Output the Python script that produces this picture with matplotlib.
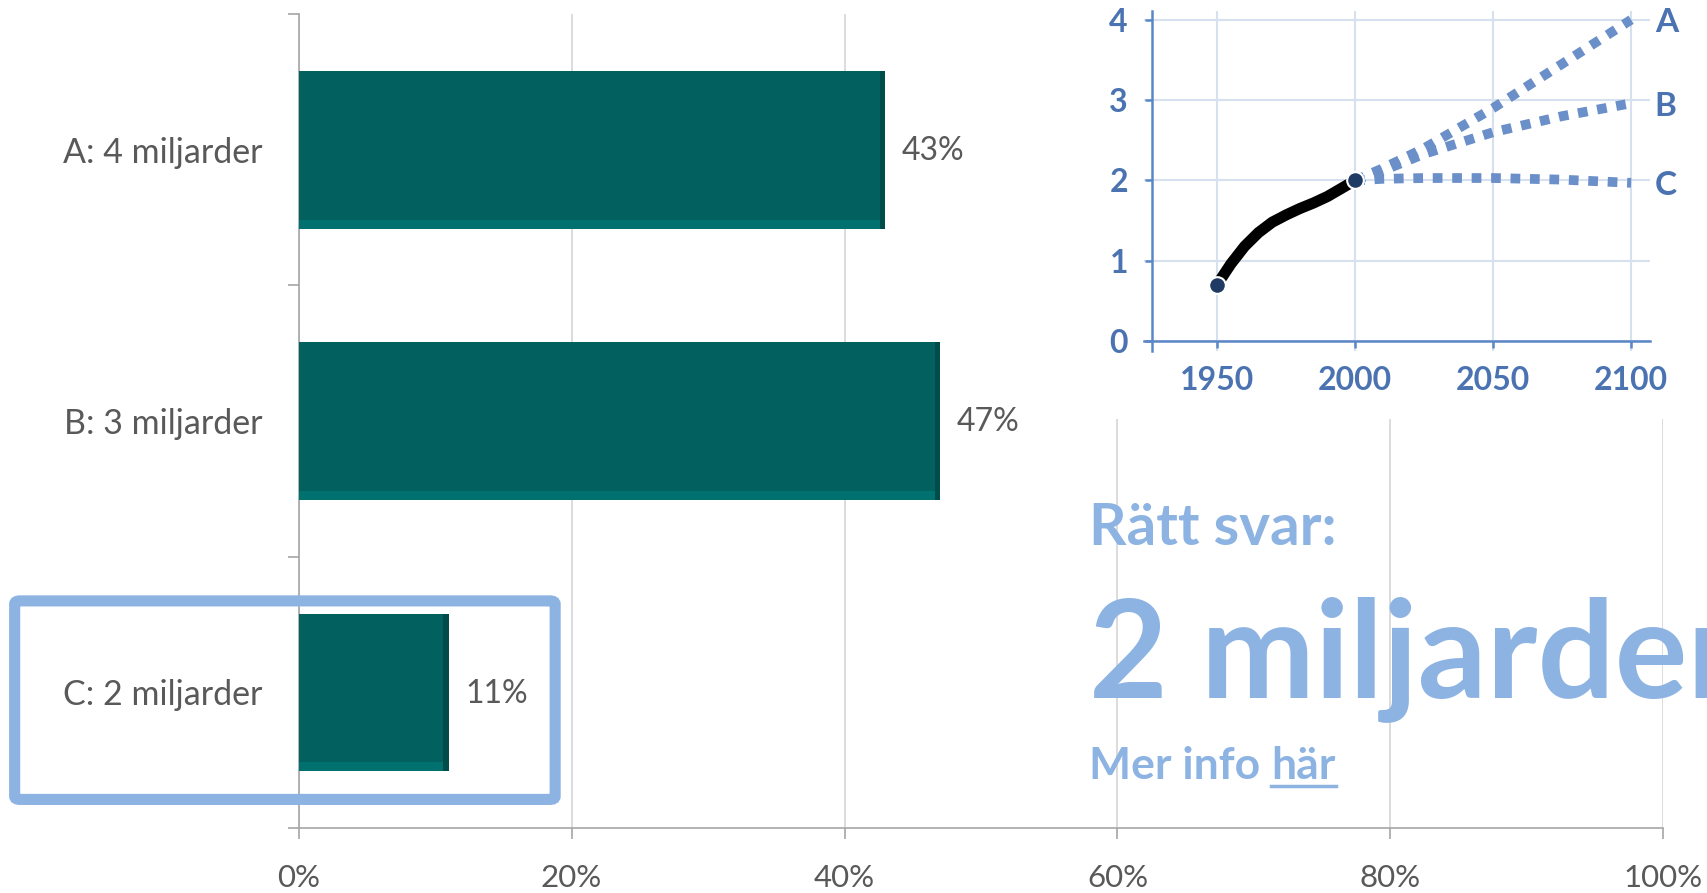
import matplotlib
matplotlib.use("Agg")
import matplotlib.pyplot as plt
from matplotlib.patches import FancyBboxPatch, Rectangle
from matplotlib.lines import Line2D

# main question: share of answers per option
categories = ["A: 4 miljarder", "B: 3 miljarder", "C: 2 miljarder"]
shares = [43, 47, 11]
correct_idx = 2
x_ticks = [0, 20, 40, 60, 80, 100]

# inset: number of children in the world (billions)
hist_years = [1950, 1955, 1960, 1965, 1970, 1975, 1980, 1985, 1990, 1995, 2000]
hist_vals = [0.70, 0.96, 1.18, 1.35, 1.48, 1.57, 1.65, 1.72, 1.80, 1.90, 2.0]
proj_years = [2000, 2010, 2025, 2050, 2075, 2100]
proj_a = [2.0, 2.15, 2.40, 2.90, 3.45, 4.0]
proj_b = [2.0, 2.12, 2.33, 2.60, 2.80, 2.96]
proj_c = [2.0, 2.02, 2.03, 2.03, 2.01, 1.97]
proj_names = ["A", "B", "C"]
inset_xticks = [1950, 2000, 2050, 2100]
inset_yticks = [0, 1, 2, 3, 4]

FONT = "Lato"
GREY = "#595959"
TEAL = "#02605E"
LIGHT_BLUE = "#8DB3E2"
INSET_BLUE = "#4B73B1"
INSET_LINE = "#6B8FC9"

plt.rcParams["font.family"] = [FONT, "DejaVu Sans"]

fig = plt.figure(figsize=(17.08, 8.93), dpi=100)
ax = fig.add_axes([0.1748, 0.0729, 0.7991, 0.9111])

n = len(categories)
ypos = [n - 1 - i for i in range(n)]
bar_h = 0.58
ax.barh(ypos, shares, height=bar_h, color=TEAL, zorder=3)
# simple bevel: lighter bottom strip, darker right strip
ax.barh([y - bar_h / 2 + 0.016 for y in ypos], shares, height=0.032,
        color="#00716F", zorder=4)
ax.barh(ypos, [0.4] * n, left=[v - 0.4 for v in shares], height=bar_h,
        color="#004C4B", zorder=4)

for y, v in zip(ypos, shares):
    ax.annotate(f"{v}%", xy=(v, y), xytext=(12, -1), textcoords="offset points",
                va="center", ha="left", fontsize=23, color=GREY)

ax.set_xlim(0, 100)
ax.set_ylim(-0.5, n - 0.5)
ax.set_xticks(x_ticks)
ax.set_xticklabels([f"{t}%" for t in x_ticks], fontsize=22.5, color=GREY)
ax.set_yticks([i - 0.5 for i in range(n + 1)])
ax.set_yticklabels([])
ax.set_yticks(ypos, minor=True)
ax.set_yticklabels(categories, minor=True, fontsize=24.5, color=GREY)
ax.tick_params(axis="y", which="minor", length=0, pad=26)
ax.tick_params(axis="y", which="major", length=8, width=1.2, color="#A6A6A6")
ax.tick_params(axis="x", length=8, width=1.2, color="#A6A6A6", pad=18)
ax.grid(axis="x", color="#D9D9D9", linewidth=1.3, zorder=0)
for s in ["top", "right"]:
    ax.spines[s].set_visible(False)
for s in ["left", "bottom"]:
    ax.spines[s].set_color("#A6A6A6")
    ax.spines[s].set_linewidth(1.2)

# highlight the correct answer
box = FancyBboxPatch((-0.208, 0.035), 0.396, 0.244, boxstyle="round,pad=0,rounding_size=0.004",
                     transform=ax.transAxes, fill=False, edgecolor=LIGHT_BLUE,
                     linewidth=8, clip_on=False, zorder=6)
ax.add_patch(box)

# white backdrop for the inset image
fig.patches.append(Rectangle((0.63, 0.531), 0.37, 0.469, transform=fig.transFigure,
                             facecolor="white", edgecolor="none", zorder=1))

ins = fig.add_axes([0.6697, 0.6072, 0.2966, 0.3806], zorder=2)
ins.set_facecolor("white")
ins.set_xlim(1923.5, 2107)
ins.set_ylim(-0.12, 4.11)
ins.spines["left"].set_position(("data", 1926.3))
ins.spines["bottom"].set_position(("data", 0))
for s in ["top", "right"]:
    ins.spines[s].set_visible(False)
for s in ["left", "bottom"]:
    ins.spines[s].set_color("#5B87C6")
    ins.spines[s].set_linewidth(1.8)
ins.set_xticks(inset_xticks)
ins.set_yticks(inset_yticks)
ins.set_xticklabels([str(t) for t in inset_xticks], fontsize=23, fontweight="bold", color=INSET_BLUE)
ins.set_yticklabels([str(t) for t in inset_yticks], fontsize=23, fontweight="bold", color=INSET_BLUE)
ins.tick_params(length=5, width=1.8, color="#5B87C6")
ins.tick_params(axis="x", pad=13)
ins.tick_params(axis="y", pad=12)
ins.grid(color="#D6E1F0", linewidth=1.5, zorder=0)

for vals, name in zip([proj_a, proj_b, proj_c], proj_names):
    ins.plot(proj_years, vals, color=INSET_LINE, linewidth=7, linestyle=(0, (1, 1)),
             dash_capstyle="butt", zorder=3)
    ins.annotate(name, xy=(proj_years[-1], vals[-1]), xytext=(17, -2), textcoords="offset points",
                 va="center", ha="left", fontsize=24, fontweight="bold", color=INSET_BLUE,
                 annotation_clip=False)
ins.plot(hist_years, hist_vals, color="black", linewidth=8, solid_capstyle="round", zorder=4)
ins.plot([hist_years[0], hist_years[-1]], [hist_vals[0], hist_vals[-1]], "o", markersize=12,
         color="#1F3A63", markeredgecolor="white", markeredgewidth=1.5, zorder=5)

# answer text (the big line runs off the right edge, as in the original slide)
fig.text(0.6377, 0.390, "Rätt svar:", fontsize=42, fontweight="bold", color=LIGHT_BLUE,
         va="baseline", ha="left")
fig.text(0.6377, 0.2195, "2 miljarder", fontsize=98, fontweight="bold", color=LIGHT_BLUE,
         va="baseline", ha="left")
t1 = fig.text(0.6377, 0.128, "Mer info ", fontsize=32, fontweight="bold", color=LIGHT_BLUE,
              va="baseline", ha="left")
fig.canvas.draw()
r = fig.canvas.get_renderer()
W, H = fig.bbox.width, fig.bbox.height
b1 = t1.get_window_extent(r)
t2 = fig.text(b1.x1 / W, 0.128, "här", fontsize=32, fontweight="bold", color=LIGHT_BLUE,
              va="baseline", ha="left")
fig.canvas.draw()
b2 = t2.get_window_extent(r)
uy = 0.128 - 7 / H
fig.add_artist(Line2D([b2.x0 / W, b2.x1 / W], [uy, uy], transform=fig.transFigure,
                      color=LIGHT_BLUE, linewidth=2.5))

fig.savefig("out.png", dpi=100)
